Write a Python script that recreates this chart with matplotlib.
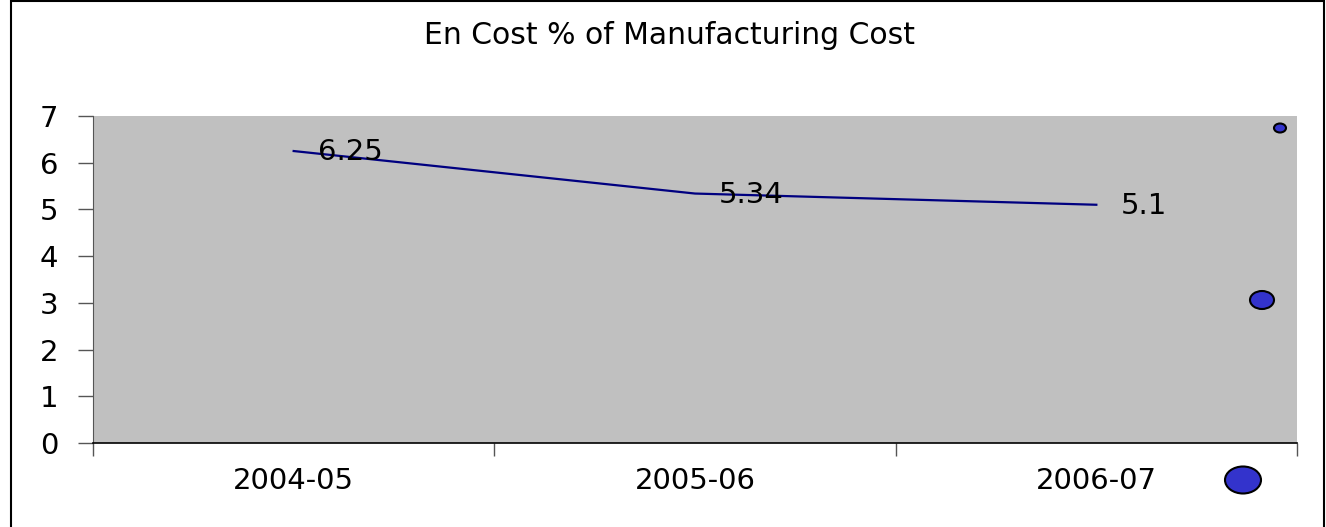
import matplotlib
matplotlib.use("Agg")
import matplotlib.pyplot as plt
from matplotlib.patches import Rectangle, Ellipse

categories = ["2004-05", "2005-06", "2006-07"]
values = [6.25, 5.34, 5.1]
value_labels = ["6.25", "5.34", "5.1"]
yticks = [0, 1, 2, 3, 4, 5, 6, 7]

W, H = 1326, 527
fig = plt.figure(figsize=(W / 100, H / 100), dpi=100)
plt.rcParams['font.family'] = ['DejaVu Sans']
FS = 21

def fx(px):
    return px / W

def fy(py):
    return 1 - py / H

# outer chart border
fig.patches.append(Rectangle((fx(11), fy(540)), fx(1324) - fx(11), fy(1) - fy(540),
                             transform=fig.transFigure, fill=False, edgecolor='black', lw=1.5))

ax = fig.add_axes([fx(93), fy(443), fx(1297) - fx(93), fy(116) - fy(443)])
ax.set_facecolor('#C0C0C0')
x = list(range(len(categories)))
ax.plot(x, values, color='#000080', lw=1.6)
for xi, v, lab in zip(x, values, value_labels):
    ax.annotate(lab, (xi, v), xytext=(24, -1), textcoords='offset pixels',
                ha='left', va='center', fontsize=FS, color='black')

ax.set_xlim(-0.5, len(categories) - 0.5)
ax.set_ylim(0, 7)
ax.set_yticks(yticks)
ax.set_yticklabels([str(t) for t in yticks], fontsize=FS)
ax.set_xticks([i - 0.5 for i in range(len(categories) + 1)], minor=False)
ax.set_xticklabels([])
ax.set_xticks(x, minor=True)
ax.set_xticklabels(categories, minor=True, fontsize=FS)
ax.tick_params(axis='x', which='minor', length=0, pad=17)
ax.tick_params(axis='x', which='major', direction='out', length=9, width=1, color='#555555')
ax.tick_params(axis='y', direction='out', length=11, width=1, color='#555555', pad=14)
for s in ['top', 'right']:
    ax.spines[s].set_visible(False)
ax.spines['left'].set_color('#555555')
ax.spines['bottom'].set_color('black')
ax.spines['bottom'].set_linewidth(1.2)

fig.text(fx(669), fy(35), "En Cost % of Manufacturing Cost", ha='center', va='center', fontsize=FS + 0.5)

# decorative ellipses (legend-like shapes from the original)
for cx, cy, w, h in [(1280, 128, 12, 9), (1262, 300, 24, 18), (1243, 480, 36, 27)]:
    fig.patches.append(Ellipse((fx(cx), fy(cy)), fx(w), h / H, transform=fig.transFigure,
                               facecolor='#3333CC', edgecolor='black', lw=1.5))

fig.savefig("out.png", dpi=100)
